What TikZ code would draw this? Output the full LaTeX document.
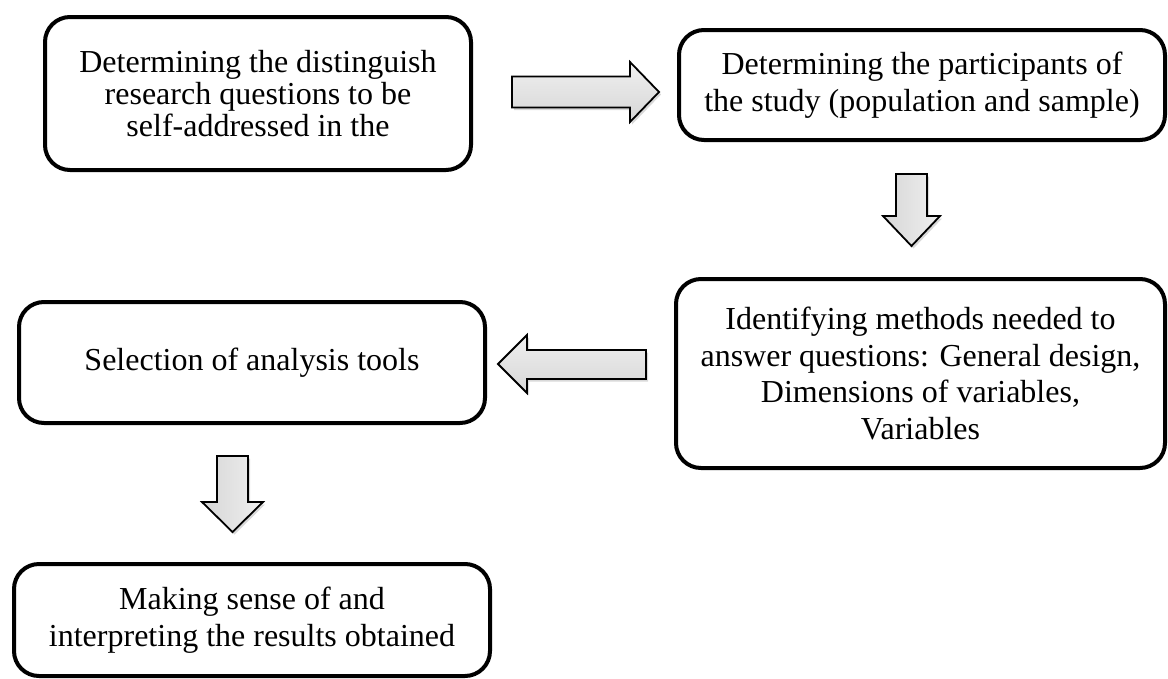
\documentclass[tikz,border=0pt]{standalone}
\usepackage{fontspec}
\setmainfont{Liberation Serif}
\usetikzlibrary{shadows,positioning}

\begin{document}
\begin{tikzpicture}[
        x=1pt, y=-1pt,
        stage/.style={draw, line width=4pt, rounded corners=25pt, align=center,
            inner sep=0pt, font=\fontsize{32}{36.7}\selectfont},
        block arrow/.style={draw, line width=1.8pt, line join=miter,
            drop shadow={opacity=0.3, shadow xshift=2pt, shadow yshift=-2.5pt}},
        across/.style={block arrow, top color=gray!12, bottom color=gray!32},
        down/.style={block arrow, left color=gray!32, right color=gray!12},
        every node/.style={color=black}
    ]
    \useasboundingbox (0,0) rectangle (1168,678);
    % stages
    \node[stage, minimum width=426pt, minimum height=153pt,
        font=\fontsize{32}{31.7}\selectfont] (questions) at (258,93.5)
        {Determining the distinguish\\research questions to be\\self-addressed in the};
    \node[stage, minimum width=486pt, minimum height=110pt] (participants) at (922,85)
        {Determining the participants of\\the study (population and sample)};
    \node[stage, minimum width=489pt, minimum height=189pt] (methods) at (920.5,373.5)
        {Identifying methods needed to\\answer questions: General design,\\Dimensions of variables,\\Variables};
    \node[stage, minimum width=466pt, minimum height=121pt] (tools) at (252,362.5)
        {Selection of analysis tools};
    \node[stage, minimum width=476pt, minimum height=112pt] (results) at (252,620)
        {Making sense of and\\interpreting the results obtained};
    % arrows
    \draw[across] (512,76.5) -- (630,76.5) -- (630,62) -- (659,92)
        -- (630,122) -- (630,107.5) -- (512,107.5) -- cycle;
    \draw[down] (896,174) -- (927,174) -- (927,216) -- (940,216)
        -- (911.5,246) -- (883,216) -- (896,216) -- cycle;
    \draw[across] (646,350) -- (527,350) -- (527,335) -- (498,364)
        -- (527,393) -- (527,379) -- (646,379) -- cycle;
    \draw[down] (217,456) -- (248,456) -- (248,502) -- (263,502)
        -- (232.5,532) -- (202,502) -- (217,502) -- cycle;
\end{tikzpicture}
\end{document}
